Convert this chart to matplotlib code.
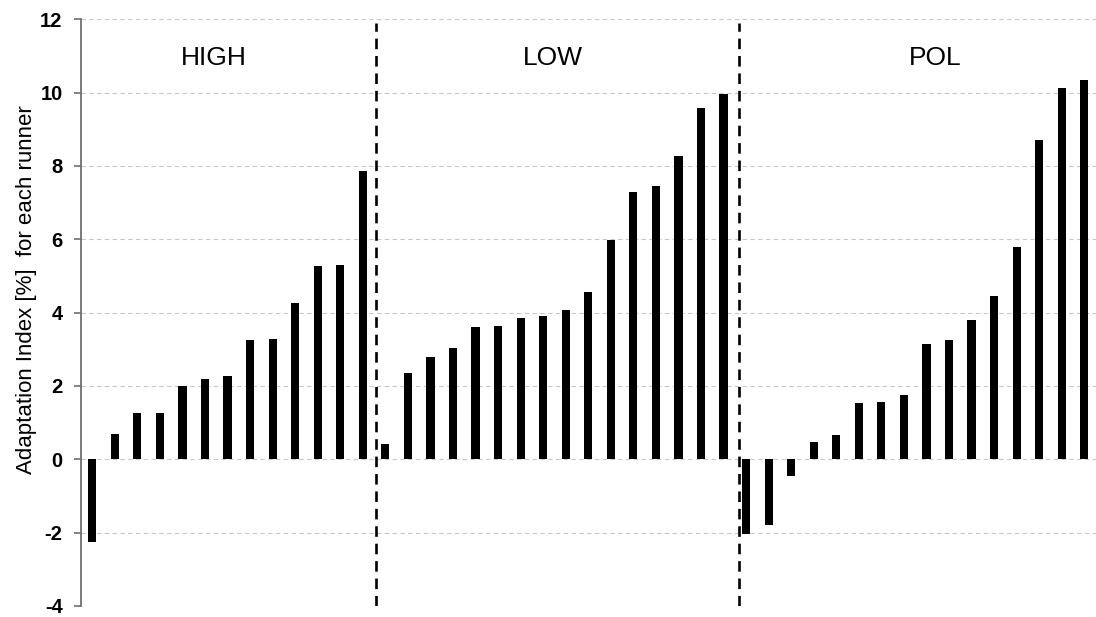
"""Adaptation index per runner, grouped by training condition."""

import matplotlib
matplotlib.use("Agg")
import matplotlib.pyplot as plt
import numpy as np

plt.rcParams.update({
    "font.family": ["Liberation Sans", "DejaVu Sans"],
    "savefig.facecolor": "white",
    "axes.facecolor": "white",
})

GROUPS = ["HIGH", "LOW", "POL"]

high = [-2.26, 0.69, 1.26, 1.26, 2.0, 2.18, 2.28, 3.24, 3.27, 4.25, 5.27,
        5.31, 7.86]
low = [0.41, 2.35, 2.78, 3.04, 3.6, 3.64, 3.86, 3.91, 4.07, 4.56, 5.98,
       7.30, 7.46, 8.26, 9.59, 9.96]
pol = [-2.03, -1.78, -0.45, 0.48, 0.65, 1.53, 1.55, 1.75, 3.14, 3.24, 3.80,
       4.44, 5.80, 8.72, 10.14, 10.34]

y_ticks = [-4, -2, 0, 2, 4, 6, 8, 10, 12]

values = high + low + pol
x = np.arange(len(values))

fig = plt.figure(figsize=(10.96, 6.17), dpi=100)
ax = fig.add_axes([0.0736, 0.018, 0.9264, 0.9507])

ax.bar(x, values, width=0.36, color="black", zorder=3)

# group separators
n1 = len(high)
n2 = n1 + len(low)
for xs in (n1 - 0.43, n2 - 0.32):
    ax.plot([xs, xs], [-4, 11.9], color="black", linewidth=1.9,
            dashes=(4, 2.6), zorder=4)

# group titles, placed over the middle of each block
title_x = [5.38, 20.43, 37.38]
for name, tx in zip(GROUPS, title_x):
    ax.text(tx, 10.94, name, ha="center", va="center",
            fontsize=19, color="black")

ax.set_xlim(-0.515, 44.52)
ax.set_ylim(-4, 12)
ax.set_yticks(y_ticks)
ax.set_yticklabels([str(t) for t in y_ticks], fontsize=14.5,
                   fontweight="bold")
ax.set_xticks([])

ax.yaxis.grid(True, color="#c8c8c8", linewidth=0.8, linestyle=(0, (4, 3)))
ax.set_axisbelow(True)

for side in ("top", "right", "bottom"):
    ax.spines[side].set_visible(False)
ax.spines["left"].set_color("#707070")
ax.spines["left"].set_linewidth(1.3)
ax.tick_params(axis="y", direction="out", length=5, width=1.2,
               color="#707070", pad=8)

ax.set_ylabel("Adaptation Index [%]  for each runner", fontsize=16)
ax.yaxis.set_label_coords(-0.043, 0.54)

fig.savefig("out.png", dpi=100, facecolor="white")
